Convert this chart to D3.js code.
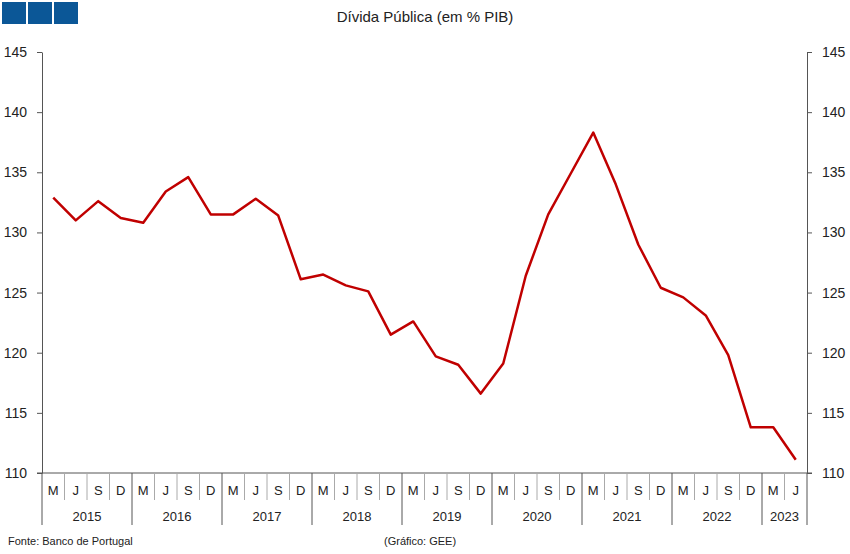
<!DOCTYPE html>
<html lang="pt">
<head>
<meta charset="UTF-8">
<script src="https://d3js.org/d3.v7.min.js"></script>
<style>
  body { margin: 0; background: #fff; }
  svg text { font-family: "Liberation Sans", Arial, sans-serif; fill: #222; }
</style>
</head>
<body>
<div id="chart"></div>
<script>
  // quarters and years
  const quarters = ["M", "J", "S", "D"];
  const years = ["2015", "2016", "2017", "2018", "2019", "2020", "2021", "2022", "2023"];
  const quartersPerYear = [4, 4, 4, 4, 4, 4, 4, 4, 2];

  // public debt, % of GDP
  const debt = [
    132.9, 131.0, 132.6, 131.2,
    130.8, 133.4, 134.6, 131.5,
    131.5, 132.8, 131.4, 126.1,
    126.5, 125.6, 125.1, 121.5,
    122.6, 119.7, 119.0, 116.6,
    119.1, 126.4, 131.5, 134.9,
    138.3, 134.0, 129.0, 125.4,
    124.6, 123.1, 119.8, 113.8,
    113.8, 111.1
  ];
  const yTicks = [110, 115, 120, 125, 130, 135, 140, 145];

  // build period list
  const periods = [];
  years.forEach((yr, i) => {
    for (let q = 0; q < quartersPerYear[i]; q++) periods.push({ year: yr, q: quarters[q], key: yr + quarters[q] });
  });
  const data = periods.map((p, i) => ({ ...p, value: debt[i] }));

  const W = 850, H = 554;
  const mLeft = 42, mRight = 807, mTop = 52, mBottom = 473;

  const svg = d3.select("#chart").append("svg")
    .attr("width", W).attr("height", H);

  const x = d3.scaleBand().domain(periods.map(d => d.key)).range([mLeft, mRight]).padding(0);
  const y = d3.scaleLinear().domain([110, 145]).range([mBottom, mTop]);

  // logo squares
  svg.selectAll("rect.logo").data([0, 1, 2]).join("rect")
    .attr("class", "logo")
    .attr("x", d => 2 + d * 26).attr("y", 2)
    .attr("width", 24).attr("height", 22)
    .attr("fill", "#0b5797");

  // title
  svg.append("text").attr("x", 425).attr("y", 22)
    .attr("text-anchor", "middle").style("font-size", "15px")
    .text("Dívida Pública (em % PIB)");

  // left axis
  const gl = svg.append("g").attr("transform", `translate(${mLeft},0)`)
    .call(d3.axisLeft(y).tickValues(yTicks).tickSize(5).tickSizeOuter(0));
  // right axis
  const gr = svg.append("g").attr("transform", `translate(${mRight},0)`)
    .call(d3.axisRight(y).tickValues(yTicks).tickSize(5).tickSizeOuter(0));
  [gl, gr].forEach(g => {
    g.select(".domain").attr("stroke", "#555");
    g.selectAll(".tick line").attr("stroke", "#555");
    g.selectAll(".tick text").style("font-size", "14px").attr("fill", "#222")
      .attr("font-family", "Liberation Sans, Arial, sans-serif");
  });
  gl.selectAll(".tick text").attr("x", -15);
  gr.selectAll(".tick text").attr("x", 15);

  // baseline
  svg.append("line").attr("x1", mLeft - 5).attr("x2", mRight + 5)
    .attr("y1", mBottom).attr("y2", mBottom).attr("stroke", "#555");

  // quarter separators
  svg.selectAll("line.qsep").data(periods.slice(1)).join("line")
    .attr("class", "qsep")
    .attr("x1", d => x(d.key)).attr("x2", d => x(d.key))
    .attr("y1", mBottom).attr("y2", d => d.q === "M" ? 525 : 500)
    .attr("stroke", d => d.q === "M" ? "#555" : "#aaa");
  svg.append("line").attr("x1", mLeft).attr("x2", mLeft).attr("y1", mBottom).attr("y2", 525).attr("stroke", "#555");
  svg.append("line").attr("x1", mRight).attr("x2", mRight).attr("y1", mBottom).attr("y2", 525).attr("stroke", "#555");

  // quarter labels
  svg.selectAll("text.qlab").data(periods).join("text")
    .attr("class", "qlab")
    .attr("x", d => x(d.key) + x.bandwidth() / 2).attr("y", 495)
    .attr("text-anchor", "middle").style("font-size", "13px").attr("fill", "#333")
    .text(d => d.q);

  // year labels
  years.forEach(yr => {
    const ps = periods.filter(p => p.year === yr);
    const x0 = x(ps[0].key), x1 = x(ps[ps.length - 1].key) + x.bandwidth();
    svg.append("text").attr("x", (x0 + x1) / 2).attr("y", 521)
      .attr("text-anchor", "middle").style("font-size", "13px").attr("fill", "#333")
      .text(yr);
  });

  // line
  const line = d3.line().x(d => x(d.key) + x.bandwidth() / 2).y(d => y(d.value));
  svg.append("path").datum(data)
    .attr("fill", "none").attr("stroke", "#c00000").attr("stroke-width", 2.5)
    .attr("stroke-linejoin", "round")
    .attr("d", line);

  // footer
  svg.append("text").attr("x", 8).attr("y", 545).style("font-size", "11px")
    .text("Fonte: Banco de Portugal");
  svg.append("text").attr("x", 384).attr("y", 545).style("font-size", "11px")
    .text("(Gráfico: GEE)");
</script>
</body>
</html>
